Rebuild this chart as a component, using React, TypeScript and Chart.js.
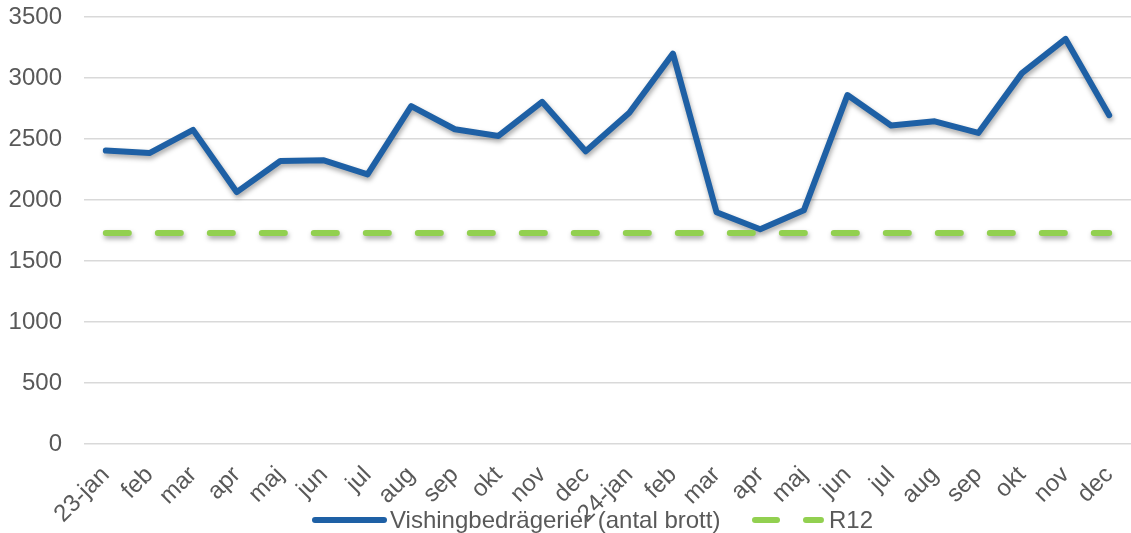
import React, { useEffect, useRef } from "react";
import { Chart, registerables } from "chart.js";

Chart.register(...registerables);

const categories = [
  "23-jan", "feb", "mar", "apr", "maj", "jun", "jul", "aug", "sep", "okt", "nov", "dec",
  "24-jan", "feb", "mar", "apr", "maj", "jun", "jul", "aug", "sep", "okt", "nov", "dec",
];
const vishingValues = [
  2405, 2385, 2575, 2065, 2320, 2325, 2210, 2770, 2580, 2525, 2805, 2400,
  2715, 3200, 1900, 1760, 1915, 2860, 2610, 2645, 2550, 3040, 3320, 2695,
];
const r12Values = [
  1730, 1730, 1730, 1730, 1730, 1730, 1730, 1730, 1730, 1730, 1730, 1730,
  1730, 1730, 1730, 1730, 1730, 1730, 1730, 1730, 1730, 1730, 1730, 1730,
];
const seriesNames = ["Vishingbedrägerier (antal brott)", "R12"];

const BLUE = "#1E60A5";
const GREEN = "#92D050";
const TEXT = "#595959";
const FONT = "'Liberation Sans', Arial, sans-serif";

const shadowPlugin = {
  id: "lineShadow",
  beforeDatasetDraw(chart: any) {
    const ctx = chart.ctx;
    ctx.save();
    ctx.shadowColor = "rgba(0,0,0,0.35)";
    ctx.shadowBlur = 5;
    ctx.shadowOffsetX = 1;
    ctx.shadowOffsetY = 3;
  },
  afterDatasetDraw(chart: any) {
    chart.ctx.restore();
  },
};

export default function App() {
  const canvasRef = useRef<HTMLCanvasElement | null>(null);

  useEffect(() => {
    if (!canvasRef.current) return;
    const chart = new Chart(canvasRef.current, {
      type: "line",
      data: {
        labels: categories,
        datasets: [
          {
            label: seriesNames[0],
            data: vishingValues,
            borderColor: BLUE,
            backgroundColor: BLUE,
            borderWidth: 6,
            pointRadius: 0,
            tension: 0,
            borderCapStyle: "round",
            borderJoinStyle: "round",
            order: 1,
          },
          {
            label: seriesNames[1],
            data: r12Values,
            borderColor: GREEN,
            backgroundColor: GREEN,
            borderWidth: 6,
            pointRadius: 0,
            tension: 0,
            borderDash: [23, 29],
            borderCapStyle: "round",
            order: 0,
          },
        ],
      },
      options: {
        animation: false,
        responsive: false,
        layout: { padding: { top: 17, left: 0, right: 0, bottom: 0 } },
        plugins: {
          legend: { display: false },
          tooltip: { enabled: false },
        },
        scales: {
          x: {
            offset: true,
            grid: { display: false, drawTicks: false },
            border: { display: false },
            ticks: {
              color: TEXT,
              font: { family: FONT, size: 24 },
              minRotation: 45,
              maxRotation: 45,
              padding: 17,
              autoSkip: false,
            },
            afterFit: (s: any) => {
              s.height = 89;
              s.paddingRight = 0;
            },
          },
          y: {
            min: 0,
            max: 3500,
            grid: { color: "#D9D9D9", lineWidth: 1.5, drawTicks: false },
            border: { display: false },
            ticks: {
              stepSize: 500,
              color: TEXT,
              font: { family: FONT, size: 24 },
              padding: 22,
              callback: (v: any) => String(v),
            },
            afterFit: (s: any) => {
              s.width = 84;
              s.paddingTop = 0;
              s.paddingBottom = 0;
            },
          },
        },
      },
      plugins: [shadowPlugin],
    });
    return () => chart.destroy();
  }, []);

  const legendText: React.CSSProperties = {
    position: "absolute",
    top: 505,
    fontFamily: FONT,
    fontSize: 24,
    color: TEXT,
    lineHeight: "30px",
    whiteSpace: "nowrap",
  };

  return (
    <div style={{ position: "absolute", left: 0, top: 0, width: 1131, height: 533, background: "#fff", overflow: "hidden" }}>
      <canvas ref={canvasRef} width={1131} height={533} style={{ display: "block" }} />
      <div style={{ position: "absolute", left: 312, top: 517, width: 75, height: 6, borderRadius: 3, background: BLUE }} />
      <div style={{ ...legendText, left: 390 }}>{seriesNames[0]}</div>
      <div style={{ position: "absolute", left: 752, top: 517, width: 28, height: 6, borderRadius: 3, background: GREEN }} />
      <div style={{ position: "absolute", left: 803, top: 517, width: 21, height: 6, borderRadius: 3, background: GREEN }} />
      <div style={{ ...legendText, left: 829 }}>{seriesNames[1]}</div>
    </div>
  );
}
